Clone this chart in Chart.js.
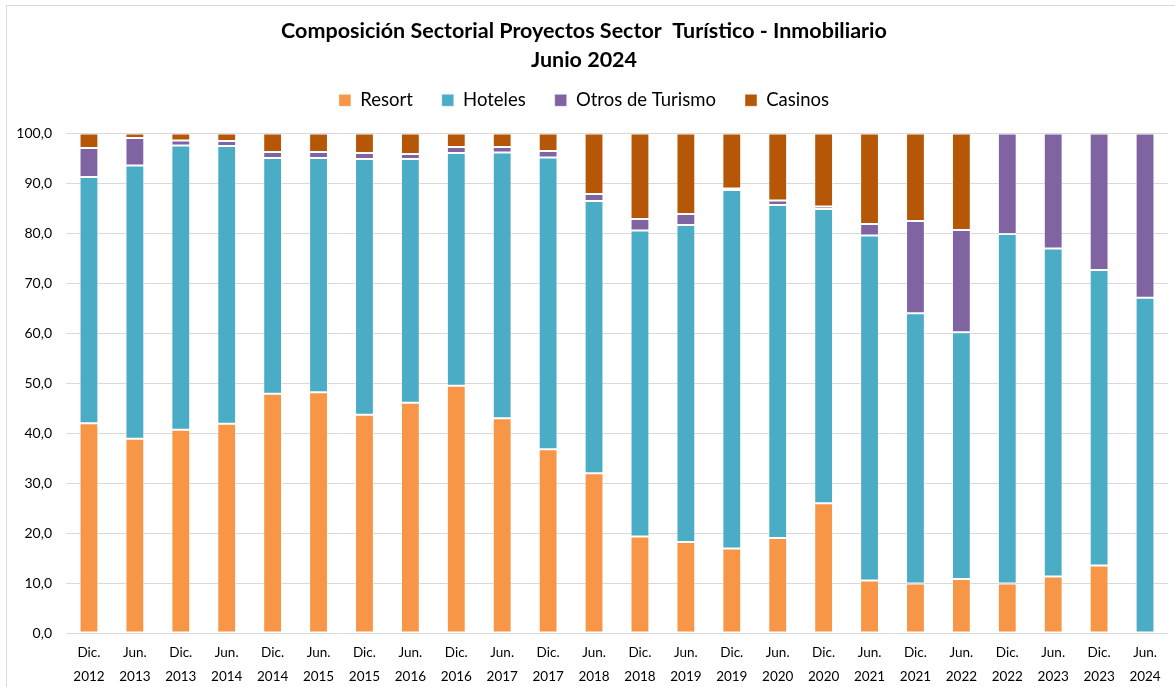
<!DOCTYPE html>
<html>
<head>
<meta charset="utf-8">
<script src="https://cdn.jsdelivr.net/npm/chart.js@4.4.0/dist/chart.umd.min.js"></script>
<style>
    html, body { margin: 0; padding: 0; background: #fff; }
    #wrap { width: 1175px; height: 687px; position: relative; }
</style>
</head>
<body>
<div id="wrap"><canvas id="sectorChart" width="1175" height="687"></canvas></div>
<script>
// Periods (semesters)
const periods = [
    ['Dic.', '2012'], ['Jun.', '2013'], ['Dic.', '2013'], ['Jun.', '2014'],
    ['Dic.', '2014'], ['Jun.', '2015'], ['Dic.', '2015'], ['Jun.', '2016'],
    ['Dic.', '2016'], ['Jun.', '2017'], ['Dic.', '2017'], ['Jun.', '2018'],
    ['Dic.', '2018'], ['Jun.', '2019'], ['Dic.', '2019'], ['Jun.', '2020'],
    ['Dic.', '2020'], ['Jun.', '2021'], ['Dic.', '2021'], ['Jun.', '2022'],
    ['Dic.', '2022'], ['Jun.', '2023'], ['Dic.', '2023'], ['Jun.', '2024']
];

// Share of each sector (%)
const resort = [42.0, 38.9, 40.7, 41.9, 47.9, 48.2, 43.7, 46.1, 49.5, 43.0, 36.8, 32.0,
                19.3, 18.2, 16.9, 19.0, 26.0, 10.5, 9.9, 10.8, 9.9, 11.3, 13.5, 0.0];
const hoteles = [49.3, 54.7, 56.9, 55.6, 47.2, 46.9, 51.2, 48.8, 46.6, 53.2, 58.4, 54.5,
                 61.3, 63.5, 71.8, 66.7, 58.9, 69.1, 54.1, 49.4, 70.0, 65.7, 59.2, 67.1];
const otrosTurismo = [5.8, 5.5, 1.0, 1.0, 1.2, 1.2, 1.2, 1.0, 1.2, 1.1, 1.3, 1.4,
                      2.3, 2.2, 0.3, 0.9, 0.5, 2.3, 18.5, 20.5, 20.1, 23.0, 27.3, 32.9];
const casinos = [2.9, 0.9, 1.4, 1.5, 3.7, 3.7, 3.9, 4.1, 2.7, 2.7, 3.5, 12.1,
                 17.1, 16.1, 11.0, 13.4, 14.6, 18.1, 17.5, 19.3, 0.0, 0.0, 0.0, 0.0];

const yTicks = [0, 10, 20, 30, 40, 50, 60, 70, 80, 90, 100];

const FONT = 'Lato, "Noto Sans", sans-serif';
const TEXT = '#000';

const makeSet = (label, data, color) => ({
    label: label,
    data: data,
    backgroundColor: color,
    borderColor: 'rgba(255,255,255,0.45)',
    borderWidth: 1,
    borderSkipped: false,
    barPercentage: 0.41,
    categoryPercentage: 1.0
});

// Thin outer frame like the spreadsheet chart area
const framePlugin = {
    id: 'frame',
    beforeDraw: (chart) => {
        const ctx = chart.ctx;
        ctx.save();
        ctx.fillStyle = '#fff';
        ctx.fillRect(0, 0, chart.width, chart.height);
        ctx.strokeStyle = '#d9d9d9';
        ctx.lineWidth = 1;
        ctx.strokeRect(6.5, 5.5, 1180, 700);
        ctx.restore();
    }
};

const ctx = document.getElementById('sectorChart').getContext('2d');
new Chart(ctx, {
    type: 'bar',
    data: {
        labels: periods,
        datasets: [
            makeSet('Resort', resort, '#F79646'),
            makeSet('Hoteles', hoteles, '#4BACC6'),
            makeSet('Otros de Turismo', otrosTurismo, '#8064A2'),
            makeSet('Casinos', casinos, '#B65708')
        ]
    },
    options: {
        responsive: false,
        animation: false,
        layout: {
            padding: { left: 0, right: 7, top: 13, bottom: 0 }
        },
        plugins: {
            title: {
                display: true,
                text: ['Composición Sectorial Proyectos Sector  Turístico - Inmobiliario', 'Junio 2024'],
                color: TEXT,
                font: { family: FONT, size: 21.5, weight: 'bold', lineHeight: 1.35 },
                padding: { top: 4, bottom: -13 }
            },
            legend: {
                position: 'top',
                labels: {
                    color: TEXT,
                    font: { family: FONT, size: 18.5 },
                    boxWidth: 12,
                    boxHeight: 12,
                    padding: 29
                }
            },
            tooltip: { enabled: false }
        },
        scales: {
            x: {
                stacked: true,
                grid: { display: false },
                border: { display: false },
                ticks: {
                    color: TEXT,
                    font: { family: FONT, size: 13.5, lineHeight: 1.75 },
                    maxRotation: 0,
                    autoSkip: false,
                    padding: 0
                },
                afterFit: (scale) => { scale.height = 54; }
            },
            // empty spacer between the legend and the plot
            xTop: {
                position: 'top',
                grid: { display: false },
                border: { display: false },
                ticks: { display: false },
                afterFit: (scale) => { scale.height = 14; }
            },
            y: {
                stacked: true,
                min: 0,
                max: 100,
                afterBuildTicks: (scale) => { scale.ticks = yTicks.map(v => ({ value: v })); },
                grid: { color: '#d9d9d9', lineWidth: 1, drawTicks: false },
                border: { display: false },
                ticks: {
                    color: TEXT,
                    font: { family: FONT, size: 14 },
                    padding: 14,
                    callback: (v) => v.toFixed(1).replace('.', ',')
                },
                afterFit: (scale) => { scale.width = 66; }
            }
        }
    },
    plugins: [framePlugin]
});
</script>
</body>
</html>
